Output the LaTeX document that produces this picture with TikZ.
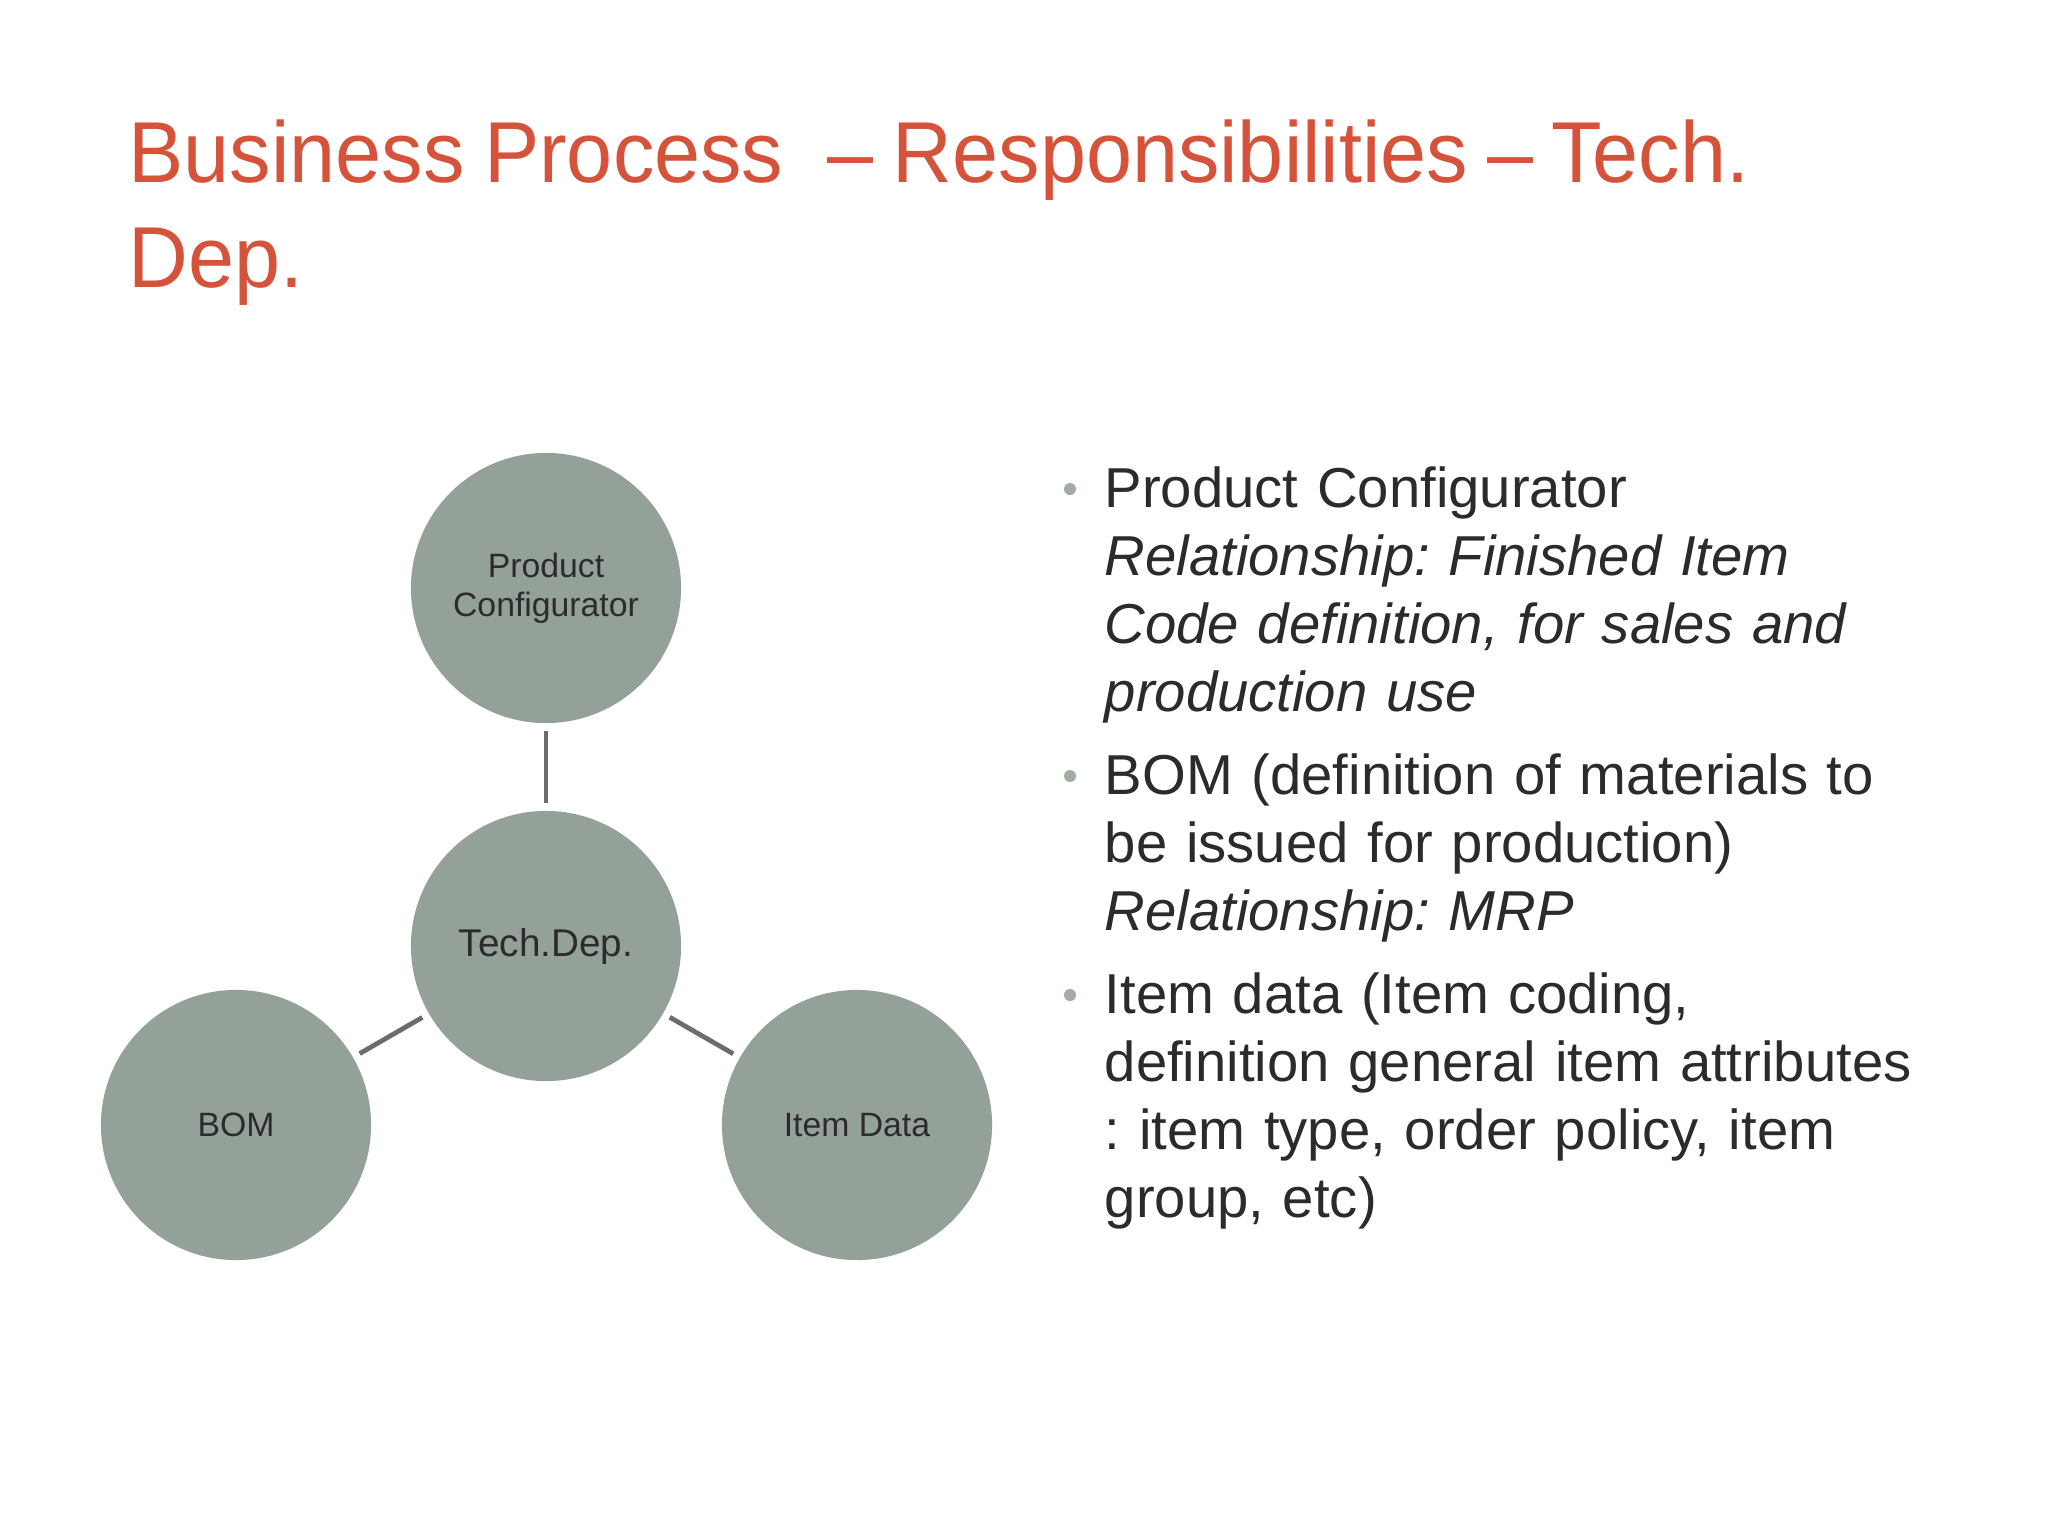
\documentclass[tikz,border=0pt]{standalone}
\usepackage{fontspec}
\setmainfont{Liberation Sans}
\newfontfamily\headfont{Liberation Sans}[FakeStretch=0.957]
\frenchspacing
\definecolor{titlered}{HTML}{D4533A}
\definecolor{bubblegray}{HTML}{94A199}
\definecolor{linkgray}{HTML}{6C6C6C}
\definecolor{bodytext}{HTML}{2B2B2B}
\definecolor{dotgray}{HTML}{A3ABA5}
\begin{document}
\begin{tikzpicture}[x=0.01cm,y=-0.01cm,
  bubble/.style={circle, fill=bubblegray, minimum size=2.7cm, inner sep=0pt, align=center, text=bodytext, font=\fontsize{9.6}{11.2}\selectfont},
  link/.style={draw=linkgray, line width=1.35pt, shorten <=2pt, shorten >=2pt},
  point/.style={text width=9cm, align=left, anchor=base west, inner sep=0pt, text=bodytext, font=\fontsize{16}{19.35}\selectfont},
  dot/.style={circle, fill=dotgray, inner sep=0pt, minimum size=0.12cm}]
\useasboundingbox[fill=white] (0,0) rectangle (2048,1536);

\node[text width=18cm, anchor=base west, inner sep=0pt, align=left, text=titlered, font=\headfont\fontsize{24.6}{30.1}\selectfont] (title) at (128,182) {Business\hspace{5.6pt}Process\hspace{12.5pt}–\hspace{5.6pt}Responsibilities\hspace{5.6pt}–\hspace{5pt}Tech.\\Dep.};

\node[bubble] (config) at (546,588) {Product\\Configurator};
\node[bubble, font=\fontsize{11}{13}\selectfont] (tech) at (546,946) {Tech.Dep.};
\node[bubble] (bom) at (236,1125) {BOM};
\node[bubble] (item) at (857,1125) {Item Data};

\draw[link] (config) -- (tech);
\draw[link] (tech) -- (bom);
\draw[link] (tech) -- (item);

\node[dot] (dot1) at (1070,489) {};
\node[dot] (dot2) at (1070,776) {};
\node[dot] (dot3) at (1070,995) {};

\node[point] (conftext) at (1104,507) {Product Configurator\\{\itshape Relationship: Finished Item\\Code definition, for sales and\\production use}};
\node[point] (bomtext) at (1104,794) {BOM (definition of materials to\\be issued for production)\\{\itshape Relationship: MRP}};
\node[point] (itemtext) at (1104,1013) {Item data (Item coding,\\definition general item attributes\\: item type, order policy, item\\group, etc)};
\end{tikzpicture}
\end{document}
